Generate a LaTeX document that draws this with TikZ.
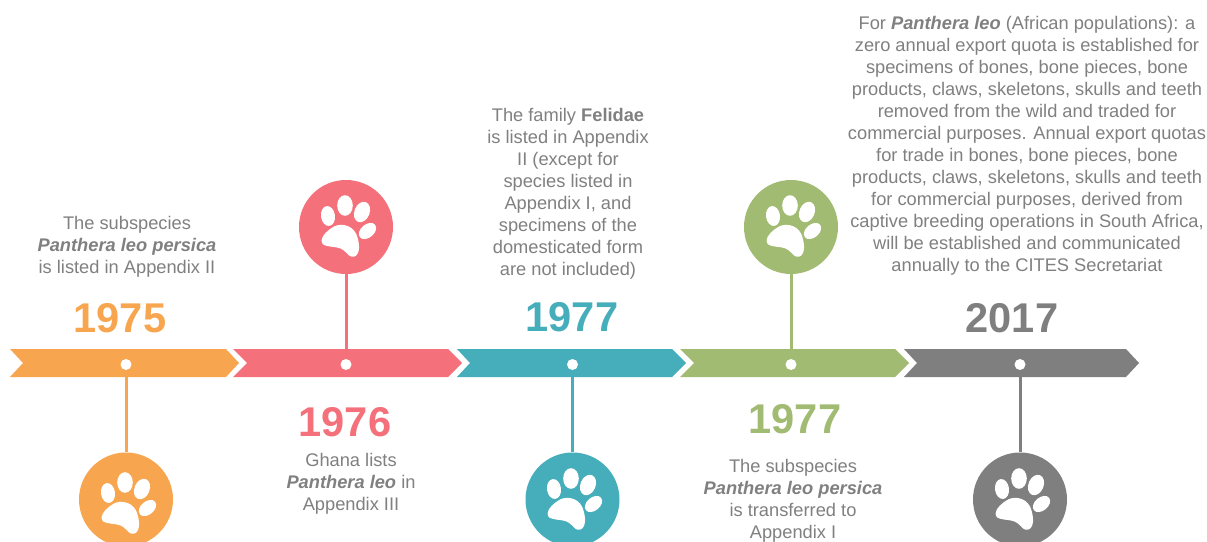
\documentclass[tikz,border=0pt]{standalone}
\usepackage{fontspec}
\setmainfont{Liberation Sans}
\definecolor{cOrange}{HTML}{F7A64F}
\definecolor{cPink}{HTML}{F4717C}
\definecolor{cTeal}{HTML}{46ADBB}
\definecolor{cGreen}{HTML}{A2BB72}
\definecolor{cGray}{HTML}{7F7F7F}
\definecolor{cText}{HTML}{808080}
\newcommand{\pl}{\textbf{\textit{Panthera leo}}}
\newcommand{\plp}{\textbf{\textit{Panthera leo persica}}}
\tikzset{
  x=0.75pt,y=-0.75pt,
  body/.style={text=cText,font=\fontsize{13.7pt}{16.5pt}\selectfont,align=center,inner sep=0pt},
  year/.style={font=\fontsize{31.2pt}{34pt}\selectfont\bfseries,inner sep=0pt},
  dotnode/.style={circle,fill=white,minimum size=8.25pt,inner sep=0pt},
  disc/.style={circle,fill=#1,minimum size=70.5pt,inner sep=0pt},
  stem/.style={line width=2.25pt,draw=#1},
  chevron/.style={fill=#1},
  pics/paw/.style={code={
    \fill[white,rotate around={8:(-18,-11)}] (-18,-11) ellipse [x radius=7,y radius=10];
    \fill[white] (-1,-21.5) ellipse [x radius=7.8,y radius=10.3];
    \fill[white,rotate around={-22:(16,-15)}] (16,-15) ellipse [x radius=7.6,y radius=10.6];
    \fill[white,rotate around={-50:(21.5,4)}] (21.5,4) ellipse [x radius=6.6,y radius=9.8];
    \fill[white] (-24.5,13.5) .. controls (-24,8) and (-18,3) .. (-12,-0.5)
      .. controls (-6,-3.5) and (5,-3) .. (10,6.5)
      .. controls (13,13) and (14,22) .. (12,26)
      .. controls (10,30.5) and (6,30.5) .. (3,28.5)
      .. controls (-1,24.5) and (-3,21.5) .. (-9,20.5)
      .. controls (-14,19.5) and (-26,19.5) .. (-24.5,13.5) -- cycle;
  }}
}
\begin{document}
\begin{tikzpicture}
\useasboundingbox[fill=white] (0,0) rectangle (1207,542);
% ribbon
\fill[chevron=cOrange] (10,349) -- (226,349) -- (239,363) -- (226,377) -- (10,377) -- (23,363) -- cycle;
\fill[chevron=cPink] (233,349) -- (448,349) -- (462,363) -- (448,377) -- (233,377) -- (247,363) -- cycle;
\fill[chevron=cTeal] (457,349) -- (672,349) -- (686,363) -- (672,377) -- (457,377) -- (470,363) -- cycle;
\fill[chevron=cGreen] (680,349) -- (895,349) -- (909,363) -- (895,377) -- (680,377) -- (694,363) -- cycle;
\fill[chevron=cGray] (904,349) -- (1126,349) -- (1139,363) -- (1126,377) -- (904,377) -- (917,363) -- cycle;
% markers
\node[disc=cOrange] (d1) at (126,499.5) {};
\node[disc=cPink] (d2) at (346,227) {};
\node[disc=cTeal] (d3) at (572.5,499.5) {};
\node[disc=cGreen] (d4) at (791,227) {};
\node[disc=cGray] (d5) at (1020,499.5) {};
\node[dotnode] (p1) at (126,364.5) {};
\node[dotnode] (p2) at (346,364.5) {};
\node[dotnode] (p3) at (572.5,364.5) {};
\node[dotnode] (p4) at (791,364.5) {};
\node[dotnode] (p5) at (1020,364.5) {};
\draw[stem=cOrange] (p1) -- (d1);
\draw[stem=cPink] (p2) -- (d2);
\draw[stem=cTeal] (p3) -- (d3);
\draw[stem=cGreen] (p4) -- (d4);
\draw[stem=cGray] (p5) -- (d5);
\pic at (126,504) {paw};
\pic at (346,227) {paw};
\pic at (572,500) {paw};
\pic at (791,227) {paw};
\pic at (1020,500) {paw};
% years
\node[year,text=cOrange] (y1) at (120,318) {1975};
\node[year,text=cPink] (y2) at (345,422) {1976};
\node[year,text=cTeal] (y3) at (572,317) {1977};
\node[year,text=cGreen] (y4) at (795,419) {1977};
\node[year,text=cGray] (y5) at (1012,318) {2017};
% texts
\node[body] (t1) at (127,247) {The subspecies\\\plp\\is listed in Appendix II};
\node[body] (t2) at (351,484) {Ghana lists\\\pl{} in\\Appendix III};
\node[body] (t3) at (568,194) {The family \textbf{Felidae}\\is listed in Appendix\\II (except for\\species listed in\\Appendix I, and\\specimens of the\\domesticated form\\are not included)};
\node[body] (t4) at (793,501) {The subspecies\\\plp\\is transferred to\\Appendix I};
\node[body] (t5) at (1027,146) {For \pl{} (African populations): a\\zero annual export quota is established for\\specimens of bones, bone pieces, bone\\products, claws, skeletons, skulls and teeth\\removed from the wild and traded for\\commercial purposes. Annual export quotas\\for trade in bones, bone pieces, bone\\products, claws, skeletons, skulls and teeth\\for commercial purposes, derived from\\captive breeding operations in South Africa,\\will be established and communicated\\annually to the CITES Secretariat};
\end{tikzpicture}
\end{document}
